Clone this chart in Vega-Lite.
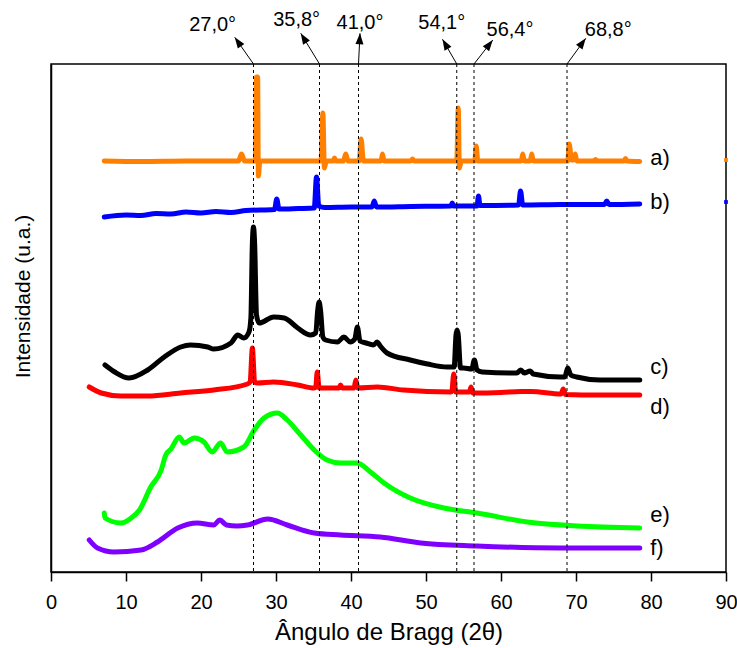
{
  "$schema": "https://vega.github.io/schema/vega-lite/v6.json",
  "width": 675,
  "height": 508,
  "autosize": {"type": "none"},
  "padding": {"left": 51, "top": 64, "right": 11, "bottom": 76},
  "background": "white",
  "config": {
    "view": {"stroke": "black", "strokeWidth": 1.5},
    "font": "Liberation Sans",
    "axis": {"labelFont": "Liberation Sans", "titleFont": "Liberation Sans", "titleFontWeight": "normal", "labelColor": "black", "titleColor": "black", "domainColor": "black", "tickColor": "black", "grid": false}
  },
  "datasets": {
    "xrd": [
      {"s":"a","x":7.1,"y":412},{"s":"a","x":12,"y":411.5},{"s":"a","x":18,"y":412},{"s":"a","x":25.0,"y":412},{"s":"a","x":25.4,"y":419},{"s":"a","x":25.8,"y":412},{"s":"a","x":27.25,"y":412},{"s":"a","x":27.4,"y":496},{"s":"a","x":27.55,"y":496},{"s":"a","x":27.65,"y":397},{"s":"a","x":27.85,"y":412},{"s":"a","x":36.0,"y":412},{"s":"a","x":36.25,"y":460},{"s":"a","x":36.45,"y":405},{"s":"a","x":36.7,"y":412},{"s":"a","x":37.6,"y":412},{"s":"a","x":37.8,"y":415},{"s":"a","x":38.0,"y":412},{"s":"a","x":39.0,"y":412},{"s":"a","x":39.3,"y":419},{"s":"a","x":39.6,"y":412},{"s":"a","x":41.1,"y":412},{"s":"a","x":41.35,"y":434},{"s":"a","x":41.65,"y":412},{"s":"a","x":44.0,"y":412},{"s":"a","x":44.2,"y":419},{"s":"a","x":44.4,"y":412},{"s":"a","x":48.0,"y":412},{"s":"a","x":48.2,"y":414},{"s":"a","x":48.4,"y":412},{"s":"a","x":54.1,"y":412},{"s":"a","x":54.3,"y":465},{"s":"a","x":54.45,"y":405},{"s":"a","x":54.7,"y":412},{"s":"a","x":56.5,"y":412},{"s":"a","x":56.7,"y":427},{"s":"a","x":56.9,"y":412},{"s":"a","x":62.7,"y":412},{"s":"a","x":62.9,"y":419},{"s":"a","x":63.1,"y":412},{"s":"a","x":63.9,"y":412},{"s":"a","x":64.1,"y":419},{"s":"a","x":64.3,"y":412},{"s":"a","x":68.9,"y":412},{"s":"a","x":69.1,"y":429},{"s":"a","x":69.4,"y":413},{"s":"a","x":69.7,"y":413},{"s":"a","x":69.9,"y":419},{"s":"a","x":70.1,"y":412},{"s":"a","x":72.4,"y":412},{"s":"a","x":72.6,"y":413.5},{"s":"a","x":72.8,"y":412},{"s":"a","x":76.4,"y":412},{"s":"a","x":76.6,"y":414.5},{"s":"a","x":76.8,"y":412},{"s":"a","x":78.5,"y":411.5},
      {"s":"b","x":7.1,"y":356},{"s":"b","x":10,"y":358},{"s":"b","x":12,"y":357.5},{"s":"b","x":14,"y":359.5},{"s":"b","x":16,"y":359},{"s":"b","x":18,"y":361},{"s":"b","x":20,"y":360},{"s":"b","x":22,"y":361.5},{"s":"b","x":24,"y":360.5},{"s":"b","x":26,"y":362.5},{"s":"b","x":29.8,"y":363.5},{"s":"b","x":30.1,"y":374},{"s":"b","x":30.4,"y":364},{"s":"b","x":33,"y":364.5},{"s":"b","x":35.1,"y":365},{"s":"b","x":35.4,"y":396},{"s":"b","x":35.7,"y":367},{"s":"b","x":36.5,"y":365.5},{"s":"b","x":40,"y":366},{"s":"b","x":42.8,"y":366},{"s":"b","x":43.1,"y":372},{"s":"b","x":43.4,"y":366},{"s":"b","x":48,"y":366.5},{"s":"b","x":53.3,"y":367},{"s":"b","x":53.5,"y":370},{"s":"b","x":53.7,"y":367},{"s":"b","x":56.8,"y":367},{"s":"b","x":57.0,"y":377},{"s":"b","x":57.2,"y":367.5},{"s":"b","x":62.35,"y":368},{"s":"b","x":62.6,"y":382},{"s":"b","x":62.9,"y":368},{"s":"b","x":68,"y":368.5},{"s":"b","x":73.8,"y":368.5},{"s":"b","x":74.1,"y":372},{"s":"b","x":74.4,"y":368.5},{"s":"b","x":78.5,"y":369},
      {"s":"c","x":7.2,"y":208},{"s":"c","x":8.5,"y":201},{"s":"c","x":10.4,"y":195},{"s":"c","x":12.9,"y":203},{"s":"c","x":15.1,"y":216},{"s":"c","x":17.3,"y":226},{"s":"c","x":18.6,"y":228},{"s":"c","x":20.9,"y":226},{"s":"c","x":21.7,"y":224},{"s":"c","x":24.0,"y":230},{"s":"c","x":24.9,"y":238},{"s":"c","x":25.7,"y":235},{"s":"c","x":26.4,"y":241},{"s":"c","x":26.65,"y":255},{"s":"c","x":26.85,"y":330},{"s":"c","x":27.0,"y":346},{"s":"c","x":27.15,"y":330},{"s":"c","x":27.4,"y":258},{"s":"c","x":27.75,"y":250},{"s":"c","x":29.7,"y":256},{"s":"c","x":31.1,"y":255},{"s":"c","x":32.9,"y":245},{"s":"c","x":34.6,"y":238},{"s":"c","x":35.3,"y":240},{"s":"c","x":35.55,"y":262},{"s":"c","x":35.75,"y":271},{"s":"c","x":35.95,"y":262},{"s":"c","x":36.25,"y":236},{"s":"c","x":36.6,"y":233},{"s":"c","x":38.2,"y":231},{"s":"c","x":39.05,"y":236},{"s":"c","x":39.9,"y":231},{"s":"c","x":40.5,"y":234},{"s":"c","x":40.85,"y":246},{"s":"c","x":41.2,"y":232},{"s":"c","x":42.0,"y":230},{"s":"c","x":43.0,"y":228},{"s":"c","x":43.5,"y":231},{"s":"c","x":43.9,"y":227},{"s":"c","x":44.8,"y":220},{"s":"c","x":47.9,"y":213},{"s":"c","x":50.2,"y":209},{"s":"c","x":52.8,"y":206},{"s":"c","x":53.75,"y":206},{"s":"c","x":54.0,"y":238},{"s":"c","x":54.15,"y":243},{"s":"c","x":54.3,"y":238},{"s":"c","x":54.6,"y":205},{"s":"c","x":55.0,"y":205},{"s":"c","x":56.1,"y":204},{"s":"c","x":56.45,"y":213},{"s":"c","x":56.8,"y":203},{"s":"c","x":57.5,"y":201},{"s":"c","x":62.1,"y":200},{"s":"c","x":62.65,"y":203},{"s":"c","x":63.1,"y":200},{"s":"c","x":63.9,"y":202},{"s":"c","x":64.3,"y":199},{"s":"c","x":67.9,"y":196},{"s":"c","x":68.5,"y":196},{"s":"c","x":68.9,"y":205},{"s":"c","x":69.3,"y":198},{"s":"c","x":70.1,"y":196},{"s":"c","x":73.2,"y":193},{"s":"c","x":78.5,"y":193},
      {"s":"d","x":5.1,"y":186},{"s":"d","x":6.7,"y":180},{"s":"d","x":9.3,"y":177},{"s":"d","x":12.9,"y":177},{"s":"d","x":17.3,"y":180},{"s":"d","x":21.7,"y":183},{"s":"d","x":26.2,"y":189},{"s":"d","x":26.55,"y":191},{"s":"d","x":26.85,"y":225},{"s":"d","x":27.15,"y":191},{"s":"d","x":27.5,"y":190},{"s":"d","x":29.7,"y":191},{"s":"d","x":32.9,"y":188},{"s":"d","x":35.1,"y":185},{"s":"d","x":35.3,"y":186},{"s":"d","x":35.5,"y":201},{"s":"d","x":35.75,"y":185},{"s":"d","x":38.4,"y":185},{"s":"d","x":38.6,"y":188},{"s":"d","x":38.85,"y":185},{"s":"d","x":40.4,"y":185},{"s":"d","x":40.65,"y":193},{"s":"d","x":40.9,"y":185},{"s":"d","x":43.5,"y":186},{"s":"d","x":47,"y":183},{"s":"d","x":53.3,"y":181},{"s":"d","x":53.45,"y":182},{"s":"d","x":53.7,"y":199},{"s":"d","x":53.95,"y":181},{"s":"d","x":55.8,"y":181},{"s":"d","x":56.0,"y":186},{"s":"d","x":56.25,"y":180},{"s":"d","x":60,"y":180.5},{"s":"d","x":62.6,"y":181.5},{"s":"d","x":64,"y":181.5},{"s":"d","x":68.0,"y":179},{"s":"d","x":68.3,"y":184},{"s":"d","x":68.6,"y":178.5},{"s":"d","x":73,"y":178},{"s":"d","x":78.5,"y":178},
      {"s":"e","x":7.1,"y":60},{"s":"e","x":7.2,"y":55},{"s":"e","x":9.3,"y":50},{"s":"e","x":10.7,"y":55},{"s":"e","x":11.8,"y":63},{"s":"e","x":13.3,"y":86},{"s":"e","x":14.7,"y":103},{"s":"e","x":15.3,"y":118},{"s":"e","x":16.0,"y":124},{"s":"e","x":17.1,"y":136},{"s":"e","x":17.75,"y":130},{"s":"e","x":19.1,"y":135},{"s":"e","x":20.4,"y":131},{"s":"e","x":21.5,"y":121},{"s":"e","x":22.6,"y":130},{"s":"e","x":23.5,"y":121},{"s":"e","x":25.7,"y":126},{"s":"e","x":27.1,"y":143},{"s":"e","x":28.4,"y":155},{"s":"e","x":30.2,"y":160},{"s":"e","x":31.5,"y":153},{"s":"e","x":33.3,"y":138},{"s":"e","x":35.1,"y":123},{"s":"e","x":36.8,"y":113},{"s":"e","x":38.6,"y":110},{"s":"e","x":40.8,"y":110},{"s":"e","x":42.6,"y":101},{"s":"e","x":44.4,"y":90},{"s":"e","x":47.9,"y":75},{"s":"e","x":52.4,"y":65},{"s":"e","x":56.8,"y":60},{"s":"e","x":63.5,"y":51},{"s":"e","x":70.1,"y":47},{"s":"e","x":78.5,"y":45},
      {"s":"f","x":5.1,"y":33},{"s":"f","x":6.2,"y":25},{"s":"f","x":8.4,"y":21},{"s":"f","x":12.0,"y":23},{"s":"f","x":14.2,"y":31},{"s":"f","x":16.9,"y":45},{"s":"f","x":19.5,"y":50},{"s":"f","x":21.7,"y":48},{"s":"f","x":22.5,"y":53},{"s":"f","x":23.4,"y":48},{"s":"f","x":24.8,"y":47},{"s":"f","x":26.2,"y":48},{"s":"f","x":28.9,"y":54},{"s":"f","x":31.5,"y":48},{"s":"f","x":35.1,"y":40},{"s":"f","x":38.6,"y":38},{"s":"f","x":43.9,"y":36},{"s":"f","x":49.3,"y":30},{"s":"f","x":56.8,"y":27},{"s":"f","x":67.9,"y":25},{"s":"f","x":78.5,"y":25}
    ],
    "peaks": [
      {"p":27.0,"label":"27,0°","by":509,"tx":24.5,"ty":535.7,"lx":21.55,"ly":548.5},
      {"p":35.8,"label":"35,8°","by":509,"tx":33.3,"ty":539.7,"lx":32.75,"ly":553},
      {"p":41.0,"label":"41,0°","by":509,"tx":41.2,"ty":539.7,"lx":41.2,"ly":550},
      {"p":54.1,"label":"54,1°","by":509,"tx":52.2,"ty":533.7,"lx":52.1,"ly":550},
      {"p":56.4,"label":"56,4°","by":509,"tx":58.9,"ty":533,"lx":61.2,"ly":543},
      {"p":68.8,"label":"68,8°","by":509,"tx":71.3,"ty":534.7,"lx":74.3,"ly":543}
    ],
    "names": [
      {"s":"a","t":"a)","x":79.9,"y":415},
      {"s":"b","t":"b)","x":79.9,"y":371},
      {"s":"c","t":"c)","x":79.9,"y":206},
      {"s":"d","t":"d)","x":79.9,"y":166},
      {"s":"e","t":"e)","x":79.9,"y":58},
      {"s":"f","t":"f)","x":79.9,"y":25}
    ],
    "edge": [
      {"s":"a","x":90,"y":413},
      {"s":"b","x":90,"y":371}
    ]
  },
  "layer": [
    {
      "data": {"name": "xrd"},
      "mark": {"type": "line", "strokeWidth": 5, "strokeJoin": "round", "strokeCap": "round", "interpolate": "monotone"},
      "encoding": {
        "x": {"field": "x", "type": "quantitative", "scale": {"domain": [0, 90], "nice": false, "zero": false},
          "axis": {"values": [0,5,10,15,20,25,30,35,40,45,50,55,60,65,70,75,80,85,90],
            "labelExpr": "datum.value % 10 === 0 ? datum.label : ''",
            "tickSize": {"condition": {"test": "datum.value % 10 === 0", "value": 9}, "value": 5},
            "tickWidth": 1.5, "domainWidth": 1.5, "labelFontSize": 20, "labelPadding": 11, "labelFlush": false, "labelOverlap": false,
            "title": "Ângulo de Bragg (2θ)", "titleFontSize": 24, "titlePadding": 8}},
        "y": {"field": "y", "type": "quantitative", "scale": {"domain": [1, 509], "nice": false, "zero": false},
          "axis": {"labels": false, "ticks": false, "domainWidth": 1.5, "title": "Intensidade (u.a.)", "titleFontSize": 21, "titlePadding": 18, "titleY": 232}},
        "color": {"field": "s", "type": "nominal", "legend": null,
          "scale": {"domain": ["a","b","c","d","e","f"], "range": ["#FF8000","#0000FF","#000000","#FF0000","#00FF00","#8000FF"]}}
      }
    },
    {
      "data": {"name": "peaks"},
      "mark": {"type": "rule", "strokeDash": [3, 3], "strokeWidth": 1, "color": "black"},
      "encoding": {
        "x": {"field": "p", "type": "quantitative"}
      }
    },
    {
      "data": {"name": "peaks"},
      "mark": {"type": "rule", "strokeWidth": 1, "color": "black", "clip": false},
      "encoding": {
        "x": {"field": "p", "type": "quantitative"},
        "x2": {"field": "tx"},
        "y": {"field": "by", "type": "quantitative"},
        "y2": {"field": "ty"}
      }
    },
    {
      "data": {"name": "peaks"},
      "transform": [{"calculate": "atan2((datum.tx - datum.p) * 7.5, datum.ty - datum.by) * 180 / PI", "as": "ang"}],
      "mark": {"type": "point", "shape": "M0,0L0.8,2.2L-0.8,2.2Z", "filled": true, "color": "black", "opacity": 1, "size": 100, "clip": false},
      "encoding": {
        "x": {"field": "tx", "type": "quantitative"},
        "y": {"field": "ty", "type": "quantitative"},
        "angle": {"field": "ang", "type": "quantitative", "scale": null}
      }
    },
    {
      "data": {"name": "peaks"},
      "mark": {"type": "text", "fontSize": 20, "font": "Liberation Sans", "align": "center", "baseline": "middle", "color": "black", "clip": false},
      "encoding": {
        "x": {"field": "lx", "type": "quantitative"},
        "y": {"field": "ly", "type": "quantitative"},
        "text": {"field": "label"}
      }
    },
    {
      "data": {"name": "names"},
      "mark": {"type": "text", "fontSize": 22, "font": "Liberation Sans", "align": "left", "baseline": "middle", "color": "black"},
      "encoding": {
        "x": {"field": "x", "type": "quantitative"},
        "y": {"field": "y", "type": "quantitative"},
        "text": {"field": "t"}
      }
    },
    {
      "data": {"name": "edge"},
      "mark": {"type": "point", "shape": "square", "filled": true, "opacity": 1, "size": 14, "clip": false},
      "encoding": {
        "x": {"field": "x", "type": "quantitative"},
        "y": {"field": "y", "type": "quantitative"},
        "color": {"field": "s", "type": "nominal", "legend": null}
      }
    }
  ]
}
